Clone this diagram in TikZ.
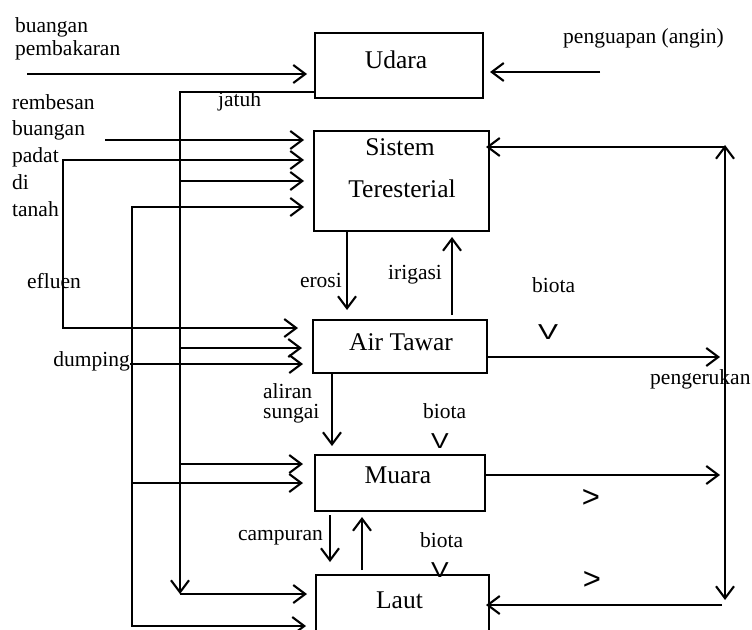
\documentclass[tikz,border=0pt]{standalone}
\usepackage{fontspec}
\setmainfont{Liberation Serif}
\newfontfamily\symf{Liberation Sans}
\usetikzlibrary{arrows.meta,calc}
\newcommand\lblf{\fontsize{21.5}{22}\selectfont}
\newcommand\bigf{\fontsize{25.5}{26}\selectfont}
\newcommand\chevf{\symf\fontsize{24}{24}\selectfont}
\newcommand\gtf{\symf\fontsize{31}{31}\selectfont}
\begin{document}
\begin{tikzpicture}[x=1pt,y=-1pt,
 box/.style={draw,line width=1.9pt,inner sep=0pt,outer sep=0pt},
 ln/.style={line width=2.1pt},
 arr/.style={ln,-{Straight Barb[length=12pt,width=18pt]}},
 arrtwo/.style={ln,{Straight Barb[length=12pt,width=18pt]}-{Straight Barb[length=12pt,width=18pt]}},
 lbl/.style={font=\lblf,inner sep=0pt},
 big/.style={font=\bigf,inner sep=0pt},
 chev/.style={font=\chevf,inner sep=0pt},
 gtc/.style={font=\gtf,inner sep=0pt}
]
\useasboundingbox (0,0) rectangle (752,629);
\clip (0,0) rectangle (752,629);

% boxes
\node[box,minimum width=168pt,minimum height=65pt] (udara) at (399,65.5) {};
\node[box,minimum width=175pt,minimum height=100pt] (sistem) at (401.5,181) {};
\node[box,minimum width=174pt,minimum height=53pt] (air) at (400,346.5) {};
\node[box,minimum width=170pt,minimum height=56pt] (muara) at (400,483) {};
\node[box,minimum width=173pt,minimum height=100pt] (laut) at (402.5,625) {};

% box texts
\node[big,anchor=base] (tudara) at (396,68) {Udara};
\node[big,anchor=base] (tsisa) at (400,155) {Sistem};
\node[big,anchor=base] (tsisb) at (402,197) {Teresterial};
\node[big,anchor=base] (tair) at (401,350) {Air Tawar};
\node[big,anchor=base] (tmuara) at (398,483) {Muara};
\node[big,anchor=base] (tlaut) at (399.5,608) {Laut};

% labels
\node[lbl,anchor=base west] (la) at (15,32) {buangan};
\node[lbl,anchor=base west] (lb) at (15,55) {pembakaran};
\node[lbl,anchor=base west] (lc) at (12,109) {rembesan};
\node[lbl,anchor=base west] (ld) at (12,135) {buangan};
\node[lbl,anchor=base west] (le) at (12,162) {padat};
\node[lbl,anchor=base west] (lf) at (12,189) {di};
\node[lbl,anchor=base west] (lg) at (12,216) {tanah};
\node[lbl,anchor=base west] (ljatuh) at (218,106) {jatuh};
\node[lbl,anchor=base west] (lpeng) at (563,43) {penguapan (angin)};
\node[lbl,anchor=base west] (lefl) at (27,288) {efluen};
\node[lbl,anchor=base east] (lero) at (342,287) {erosi};
\node[lbl,anchor=base west] (liri) at (388,279) {irigasi};
\node[lbl,anchor=base west] (lbioa) at (532,292) {biota};
\node[lbl,anchor=base west] (lkeruk) at (650,384) {pengerukan};
\node[lbl,anchor=base east] (ldump) at (130,366) {dumping};
\node[lbl,anchor=base west] (lalir) at (263,398) {aliran};
\node[lbl,anchor=base west] (lsung) at (263,418) {sungai};
\node[lbl,anchor=base west] (lbiob) at (423,418) {biota};
\node[lbl,anchor=base east] (lcamp) at (323,540) {campuran};
\node[lbl,anchor=base west] (lbioc) at (420,547) {biota};

% chevrons
\node[chev] (va) at (548,332) {\scalebox{1.25}[0.9]{V}};
\node[chev] (vb) at (440,441) {\scalebox{1.1}[0.9]{V}};
\node[chev] (vc) at (440,570) {\scalebox{1.1}[0.9]{V}};
\node[gtc] (ga) at (591,498) {>};
\node[gtc] (gb) at (592,580) {>};

% coordinates
\coordinate (bp) at (27,74);
\coordinate (pg) at (600,72);
\coordinate (ja) at (315,92);
\coordinate (jb) at (180,92);
\coordinate (jc) at (180,594);
\coordinate (sa) at (105,140);
\coordinate (ea) at (63,160);
\coordinate (eb) at (63,328);
\coordinate (sc) at (180,181);
\coordinate (ka) at (132,207);
\coordinate (kd) at (132,626);
\coordinate (ac) at (180,348);
\coordinate (dm) at (130,364);
\coordinate (mc) at (180,464);
\coordinate (mk) at (132,483);
\coordinate (ex) at (347,0);
\coordinate (ix) at (452,0);
\coordinate (alx) at (332,0);
\coordinate (cpx) at (330,0);
\coordinate (upx) at (362,0);
\coordinate (ra) at (720,357);
\coordinate (rb) at (720,475);
\coordinate (vt) at (725,145);
\coordinate (vbt) at (725,600);
\coordinate (ht) at (725,147);
\coordinate (hb) at (722,605);

% Udara
\draw[arr,shorten >=8pt] (bp) -- (bp -| udara.west);
\draw[arr,shorten >=7pt] (pg) -- (pg -| udara.east);
\draw[arr] (ja) -- (jb) -- (jc);
\draw[arr,shorten >=9pt] (jc) -- (jc -| laut.west);

% into Sistem
\draw[arr,shorten >=10pt] (sa) -- (sa -| sistem.west);
\draw[arr,shorten >=10pt] (eb) -- (ea) -- (ea -| sistem.west);
\draw[arr,shorten >=15pt] (ea) -- (eb) -- (eb -| air.west);
\draw[arr,shorten >=10pt] (sc) -- (sc -| sistem.west);
\draw[arr,shorten >=10pt] (kd) -- (ka) -- (ka -| sistem.west);
\draw[arr,shorten >=10pt] (ka) -- (kd) -- (kd -| laut.west);

% into Air Tawar
\draw[arr,shorten >=11pt] (ac) -- (ac -| air.west);
\draw[arr,shorten >=10pt] (dm) -- (dm -| air.west);

% into Muara
\draw[arr,shorten >=12pt] (mc) -- (mc -| muara.west);
\draw[arr,shorten >=12pt] (mk) -- (mk -| muara.west);

% vertical links
\draw[arr,shorten >=10pt] (ex |- sistem.south) -- (ex |- air.north);
\draw[arr,shorten <=5pt,shorten >=6pt] (ix |- air.north) -- (ix |- sistem.south);
\draw[arr,shorten >=9pt] (alx |- air.south) -- (alx |- muara.north);
\draw[arr,shorten <=4pt,shorten >=13pt] (cpx |- muara.south) -- (cpx |- laut.north);
\draw[arr,shorten <=5pt,shorten >=6pt] (upx |- laut.north) -- (upx |- muara.south);

% right side
\draw[arr] (ra -| air.east) -- (ra);
\draw[arr] (rb -| muara.east) -- (rb);
\draw[arrtwo] (vt) -- (vbt);
\draw[arr,shorten >=-3pt] (ht) -- (ht -| sistem.east);
\draw[arr,shorten >=-3pt] (hb) -- (hb -| laut.east);
\end{tikzpicture}
\end{document}
